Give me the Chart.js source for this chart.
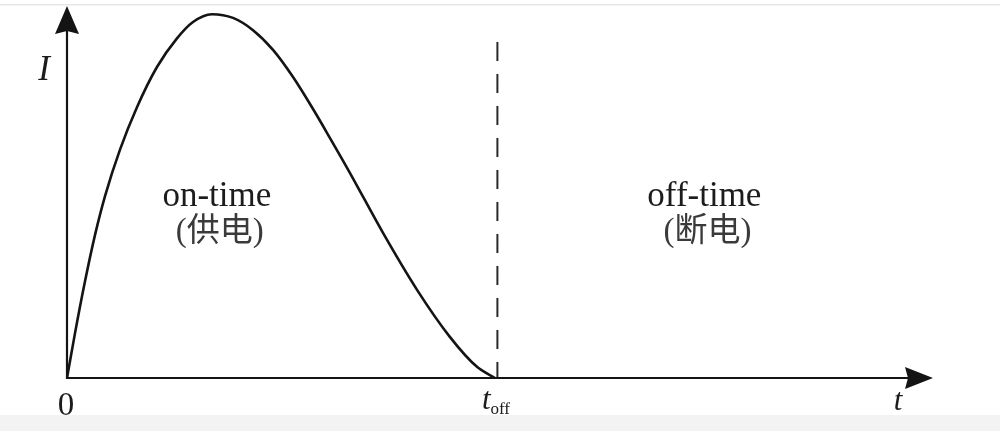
<!DOCTYPE html>
<html lang="zh">
<head>
<meta charset="UTF-8">
<title>on-time / off-time</title>
<script src="https://cdn.jsdelivr.net/npm/chart.js@4.4.0/dist/chart.umd.min.js"></script>
<style>
    body { margin: 0; background: #fff; }
    canvas { display: block; }
</style>
</head>
<body>
<canvas id="pulse" width="1000" height="431"></canvas>
<script>
// discharge current pulse (t and I in arbitrary units 0..100)
const pulseT = [0, 0.92, 2.08, 3.23, 4.39, 6.12, 8.08, 10.39, 12.70, 14.55, 16.74, 19.17, 21.48, 23.79, 26.10, 28.41, 30.37, 32.68, 36.49, 40.42, 44.23, 47.34, 49.42];
const pulseI = [0, 12.0, 26.0, 38.4, 48.9, 61.4, 72.8, 83.6, 91.3, 95.7, 97.8, 96.8, 93.5, 88.2, 80.9, 72.3, 64.5, 55.1, 39.0, 23.7, 11.0, 3.0, 0];
const tailT = [49.42, 96.8];
const tailI = [0, 0];
const tOff = 49.7;
const dashTop = 90.3;
const xLabels = ['0', 't', 'off', 't'];
const yLabel = 'I';
const regionNames = ['on-time', 'off-time'];
const regionNotes = ['(供电)', '(断电)'];

const ink = '#141414';
const serif = '"Liberation Serif", "Noto Sans CJK SC", serif';

function pts(xs, ys) {
    return xs.map((v, i) => ({ x: v, y: ys[i] }));
}

const sketch = {
    id: 'sketch',
    beforeDraw(chart) {
        const c = chart.ctx;
        c.save();
        c.fillStyle = '#fff';
        c.fillRect(0, 0, chart.width, chart.height);
        c.fillStyle = '#e6e6e6';
        c.fillRect(0, 4, chart.width, 1.5);
        c.fillStyle = '#f3f3f3';
        c.fillRect(0, 415, chart.width, chart.height - 415);
        c.restore();
    },
    beforeDatasetsDraw(chart) {
        const c = chart.ctx, x = chart.scales.x, y = chart.scales.y;
        const x0 = x.getPixelForValue(0), y0 = y.getPixelForValue(0);
        const a = chart.chartArea;
        c.save();
        c.strokeStyle = ink;
        c.lineWidth = 2.2;
        c.beginPath();
        c.moveTo(x0, y0 + 1);
        c.lineTo(x0, a.top + 20);
        c.moveTo(x0 - 1, y0);
        c.lineTo(a.right - 20, y0);
        c.stroke();
        // dashed t_off marker
        const xd = x.getPixelForValue(tOff);
        c.strokeStyle = '#2a2a2a';
        c.lineWidth = 2;
        c.setLineDash([19, 13]);
        c.beginPath();
        c.moveTo(xd, y.getPixelForValue(dashTop));
        c.lineTo(xd, y0);
        c.stroke();
        c.restore();
    },
    afterDatasetsDraw(chart) {
        const c = chart.ctx, x = chart.scales.x, y = chart.scales.y;
        const x0 = x.getPixelForValue(0), y0 = y.getPixelForValue(0);
        const a = chart.chartArea;
        c.save();
        c.fillStyle = ink;
        // arrow heads
        c.beginPath();
        c.moveTo(x0, a.top);
        c.lineTo(x0 + 12, a.top + 28);
        c.lineTo(x0, a.top + 25);
        c.lineTo(x0 - 12, a.top + 28);
        c.closePath();
        c.fill();
        c.beginPath();
        c.moveTo(a.right, y0);
        c.lineTo(a.right - 28, y0 - 11);
        c.lineTo(a.right - 25, y0);
        c.lineTo(a.right - 28, y0 + 11);
        c.closePath();
        c.fill();

        c.fillStyle = '#1c1c1c';
        c.textAlign = 'center';
        c.textBaseline = 'alphabetic';
        c.font = '33px ' + serif;
        c.fillText(xLabels[0], x0 - 1, 415);
        const xd = x.getPixelForValue(tOff);
        c.font = 'italic 31px ' + serif;
        c.fillText(xLabels[1], xd - 11, 409);
        c.textAlign = 'left';
        c.font = '17px ' + serif;
        c.fillText(xLabels[2], xd - 7, 414);
        c.textAlign = 'center';
        c.font = 'italic 31px ' + serif;
        c.fillText(xLabels[3], a.right - 35, 410);
        c.font = 'italic 35px ' + serif;
        c.fillText(yLabel, x0 - 23, 80);

        const centres = [x.getPixelForValue(17.3), x.getPixelForValue(73.6)];
        for (let i = 0; i < 2; i++) {
            c.fillStyle = '#1c1c1c';
            c.font = '35px ' + serif;
            c.fillText(regionNames[i], centres[i], y.getPixelForValue(46.2));
            c.fillStyle = '#3a3a3a';
            c.font = '33px ' + serif;
            c.fillText(regionNotes[i], centres[i] + 3, y.getPixelForValue(36.8));
        }
        c.restore();
    }
};

new Chart(document.getElementById('pulse'), {
    type: 'scatter',
    data: {
        datasets: [{
            data: pts(pulseT, pulseI),
            showLine: true,
            borderColor: ink,
            borderWidth: 2.6,
            pointRadius: 0,
            cubicInterpolationMode: 'monotone'
        }, {
            data: pts(tailT, tailI),
            showLine: true,
            borderColor: ink,
            borderWidth: 2,
            pointRadius: 0,
            tension: 0
        }]
    },
    options: {
        responsive: false,
        animation: false,
        devicePixelRatio: 1,
        layout: { padding: { left: 67, right: 67, top: 6, bottom: 53 } },
        plugins: { legend: { display: false }, tooltip: { enabled: false } },
        scales: {
            x: { type: 'linear', min: 0, max: 100, display: false },
            y: { type: 'linear', min: 0, max: 100, display: false }
        }
    },
    plugins: [sketch]
});
</script>
</body>
</html>
